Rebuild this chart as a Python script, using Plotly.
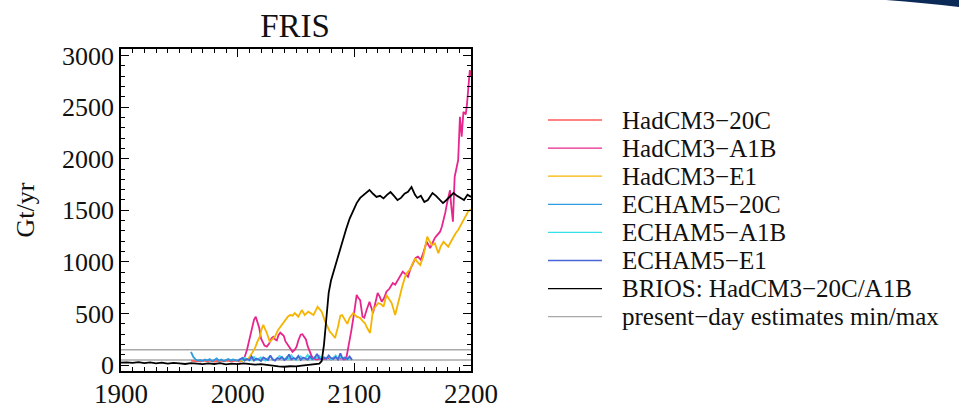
import plotly.graph_objects as go

# ---------------- data ----------------
labels = ["HadCM3\u221220C", "HadCM3\u2212A1B", "HadCM3\u2212E1", "ECHAM5\u221220C",
          "ECHAM5\u2212A1B", "ECHAM5\u2212E1", "BRIOS: HadCM3\u221220C/A1B",
          "present\u2212day estimates min/max"]
colors = ["#ff5a5a", "#e6268c", "#f5b400", "#2e9be0", "#33e0e8", "#4a66d6",
          "#000000", "#a8a8a8"]

years_20c = list(range(1960, 2001, 2))
had_20c = [45, 40, 38, 42, 36, 44, 40, 38, 45, 40, 36, 42, 39, 44, 37, 41, 45, 38, 42, 40, 44]
echam_20c = [130, 80, 55, 45, 50, 40, 55, 45, 60, 40, 50, 65, 45, 55, 40, 50, 60, 45, 55, 50, 45]

years_a1b_echam = list(range(2000, 2099, 2))
echam_a1b = [45, 60, 50, 70, 55, 45, 65, 80, 50, 60, 75, 55, 45, 70, 85, 60, 50, 65, 90, 70,
             55, 80, 60, 95, 65, 50, 75, 85, 60, 70, 100, 65, 55, 80, 70, 90, 60, 75, 65, 85,
             55, 70, 95, 60, 80, 65, 75, 55, 70, 60]
echam_e1 = [40, 55, 70, 45, 60, 50, 85, 45, 65, 55, 40, 75, 60, 50, 95, 55, 45, 70, 60, 80,
            50, 65, 105, 55, 70, 60, 90, 50, 75, 65, 55, 85, 60, 70, 110, 65, 55, 75, 60, 95,
            70, 60, 80, 55, 115, 65, 75, 60, 85, 50]

years_had_a1b = [2000, 2002, 2004, 2006, 2008, 2010, 2012, 2014, 2015.5, 2017, 2018.5, 2020,
                 2021.5, 2023, 2025, 2027, 2029, 2030.5, 2032, 2033.5, 2035, 2036.5, 2038,
                 2039.5, 2041, 2043, 2045, 2047, 2049, 2050.5, 2052, 2054, 2055.5, 2057,
                 2058.5, 2060, 2062, 2063.5, 2065, 2068, 2071, 2074, 2077, 2080, 2083, 2086,
                 2089, 2091, 2093, 2095, 2097.5, 2100, 2102, 2103.5, 2105, 2107, 2108.5,
                 2110.5, 2113, 2116, 2118, 2120, 2121.5, 2123.5, 2125.5, 2127.5, 2130, 2133,
                 2135, 2137.5, 2139.5, 2141.5, 2144, 2146, 2148, 2150.5, 2152.5, 2154.5, 2157,
                 2159.5, 2162, 2165, 2167, 2169, 2171, 2173.5, 2175, 2176.5, 2178, 2179.5,
                 2181, 2182, 2183, 2184.5, 2186, 2188, 2189, 2190.5, 2192, 2193.5, 2195.5,
                 2196.5, 2197.7, 2199, 2200]
had_a1b = [40, 35, 45, 80, 150, 245, 330, 440, 470, 420, 360, 260,
           215, 190, 180, 210, 260, 275, 250, 240, 290, 315, 300,
           285, 230, 195, 160, 130, 150, 180, 240, 295, 300, 275,
           250, 185, 120, 85, 65, 55, 70, 60, 75, 55, 80, 65,
           70, 55, 60, 180, 340, 520, 680, 650, 630, 470, 460,
           535, 615, 505, 600, 700, 670, 615, 650, 712, 740, 796,
           780, 825, 860, 906, 880, 857, 930, 1002, 1040, 1051, 1020,
           1100, 1196, 1135, 1180, 1232, 1260, 1293, 1340, 1406, 1480, 1570,
           1640, 1694, 1550, 1390, 1825, 1922, 1987, 2406, 2212, 2454, 2430,
           2520, 2729, 2858, 2800]

years_had_e1 = [2000, 2003, 2006, 2009, 2012, 2015, 2017, 2019, 2020.5, 2022, 2023.5, 2025,
                2027.5, 2030, 2032, 2034.5, 2037.5, 2040.5, 2043, 2045, 2047, 2049, 2052,
                2055, 2057.5, 2060.5, 2062.5, 2065, 2067, 2068.5, 2070, 2072, 2075, 2077,
                2079, 2081, 2083.5, 2086, 2088, 2089.5, 2092, 2094, 2096, 2099, 2102, 2105,
                2107, 2109, 2111, 2113.5, 2116, 2118, 2120.5, 2123, 2125, 2127.5, 2130,
                2132, 2135, 2137, 2139, 2141, 2143.5, 2145.5, 2147.5, 2150, 2152, 2154,
                2156.5, 2159, 2161, 2162.5, 2164.5, 2166.5, 2169, 2172, 2174, 2176.5,
                2178.5, 2180.5, 2183, 2185, 2187, 2189, 2191, 2193.5, 2195.5, 2197.5, 2200]
had_e1 = [45, 40, 50, 60, 110, 170, 230, 276, 350, 390, 350, 312,
          228, 250, 276, 340, 390, 438, 470, 486, 480, 505, 470,
          534, 486, 518, 500, 486, 530, 567, 545, 518, 422, 370,
          325, 300, 263, 373, 480, 486, 438, 400, 460, 505, 470, 457,
          430, 409, 360, 312, 534, 560, 602, 590, 567, 680, 640,
          602, 486, 580, 680, 760, 857, 900, 922, 980, 1035, 1000,
          970, 1050, 1180, 1245, 1200, 1164, 1180, 1084, 1150, 1196,
          1170, 1148, 1200, 1245, 1280, 1309, 1350, 1406, 1450, 1487, 1510]

years_brios = [1900, 1905, 1910, 1915, 1920, 1925, 1930, 1935, 1940, 1945, 1950, 1955, 1960,
               1965, 1970, 1975, 1980, 1985, 1990, 1995, 2000, 2005, 2010, 2015, 2020, 2025,
               2030, 2035, 2040, 2045, 2050, 2055, 2060, 2065, 2070, 2072, 2074, 2076, 2078,
               2080, 2082, 2084, 2086, 2088, 2090, 2093, 2096, 2099, 2102, 2105, 2108, 2111,
               2113, 2116, 2119, 2122, 2125, 2128, 2131, 2134, 2137, 2140, 2143, 2146, 2149,
               2152, 2154, 2157, 2160, 2163, 2167, 2170, 2173, 2176, 2179, 2182, 2185, 2188,
               2191, 2194, 2197, 2200]
brios = [25, 28, 22, 30, 20, 27, 18, 25, 15, 22, 18, 12, 20,
         15, 10, 18, 12, 20, 8, 15, 10, 18, 12, 5, 10, 0,
         -5, -12, -15, -10, -12, -5, 0, 5, 15, 40, 200, 450, 700,
         820, 900, 980, 1060, 1130, 1220, 1320, 1420, 1500, 1570, 1620, 1650, 1680,
         1697, 1660, 1630, 1640, 1615, 1650, 1677, 1640, 1600, 1620, 1660, 1680, 1725,
         1650, 1620, 1640, 1580, 1600, 1667, 1640, 1600, 1570, 1600, 1630, 1667, 1640,
         1620, 1600, 1650, 1630]

est_years = [1900, 2200]
est_min = 50
est_max = 150

x_range = [1900, 2200]
y_range = [-56, 3062]
x_ticks = [1900, 2000, 2100, 2200]
y_ticks = [0, 500, 1000, 1500, 2000, 2500, 3000]

# ---------------- figure ----------------
W, H = 959, 409
L, R, T, B = 121, 488, 49, 38
PW, PH = W - L - R, H - T - B
FONT = "Liberation Serif, Times New Roman, serif"
TXT = "#111111"


def px_x(p):
    return (p - L) / PW


def px_y(p):
    return (H - B - p) / PH


fig = go.Figure()
lw = 1.8
fig.add_trace(go.Scatter(x=est_years, y=[est_min, est_min], mode="lines",
                         line=dict(color=colors[7], width=1.5), showlegend=False))
fig.add_trace(go.Scatter(x=est_years, y=[est_max, est_max], mode="lines",
                         line=dict(color=colors[7], width=1.5), showlegend=False))
series = [
    (years_20c, had_20c, 0),
    (years_had_a1b, had_a1b, 1),
    (years_had_e1, had_e1, 2),
    (years_20c, echam_20c, 3),
    (years_a1b_echam, echam_a1b, 4),
    (years_a1b_echam, echam_e1, 5),
    (years_brios, brios, 6),
]
for xs, ys, i in series:
    fig.add_trace(go.Scatter(x=xs, y=ys, mode="lines", name=labels[i],
                             line=dict(color=colors[i], width=lw), showlegend=False))

# custom legend
shapes = []
annotations = []
for i, (lab, col) in enumerate(zip(labels, colors)):
    yc = 120 + 28.1 * i
    shapes.append(dict(type="line", xref="paper", yref="paper",
                       x0=px_x(548), x1=px_x(602), y0=px_y(yc), y1=px_y(yc),
                       line=dict(color=col, width=1.3)))
    annotations.append(dict(text=lab, xref="paper", yref="paper", x=px_x(620), y=px_y(yc),
                            xanchor="left", yanchor="middle", showarrow=False,
                            font=dict(family=FONT, size=25, color=TXT)))

# decorative swoosh in top-right corner
shapes.append(dict(type="path", xref="paper", yref="paper",
                   path="M %f %f L %f %f L %f %f Q %f %f %f %f Z" % (
                       px_x(886), px_y(0), px_x(960), px_y(0), px_x(960), px_y(7),
                       px_x(925), px_y(3), px_x(886), px_y(0)),
                   fillcolor="#0b2a58", line=dict(width=0)))

axis_common = dict(showline=True, linecolor="black", linewidth=1.5, mirror="allticks",
                   ticks="inside", ticklen=8, tickwidth=1.3, tickcolor="black",
                   showgrid=False, zeroline=False, automargin=False)

fig.update_layout(
    template="none",
    width=W, height=H,
    margin=dict(l=L, r=R, t=T, b=B, autoexpand=False),
    paper_bgcolor="white", plot_bgcolor="white",
    title=dict(text="FRIS", x=295 / W, xanchor="center",
               y=1 - 25 / H, yanchor="middle", xref="container", yref="container",
               font=dict(family=FONT, size=33, color=TXT)),
    xaxis=dict(range=x_range, tickvals=x_ticks, **axis_common, ticklabelstandoff=-2,
               tickfont=dict(family=FONT, size=27, color=TXT),
               minor=dict(dtick=10, ticks="inside", ticklen=4, tickwidth=1, tickcolor="black")),
    yaxis=dict(range=y_range, tickvals=y_ticks, **axis_common,
               tickfont=dict(family=FONT, size=26, color=TXT),
               title=dict(text="Gt/yr", standoff=20,
                          font=dict(family=FONT, size=26, color=TXT)),
               minor=dict(dtick=100, ticks="inside", ticklen=4, tickwidth=1, tickcolor="black")),
    shapes=shapes,
    annotations=annotations,
    showlegend=False,
)

fig.write_html("out.html", config={"displayModeBar": False},
               post_script="document.body.style.margin='0';document.body.style.overflow='hidden';")
